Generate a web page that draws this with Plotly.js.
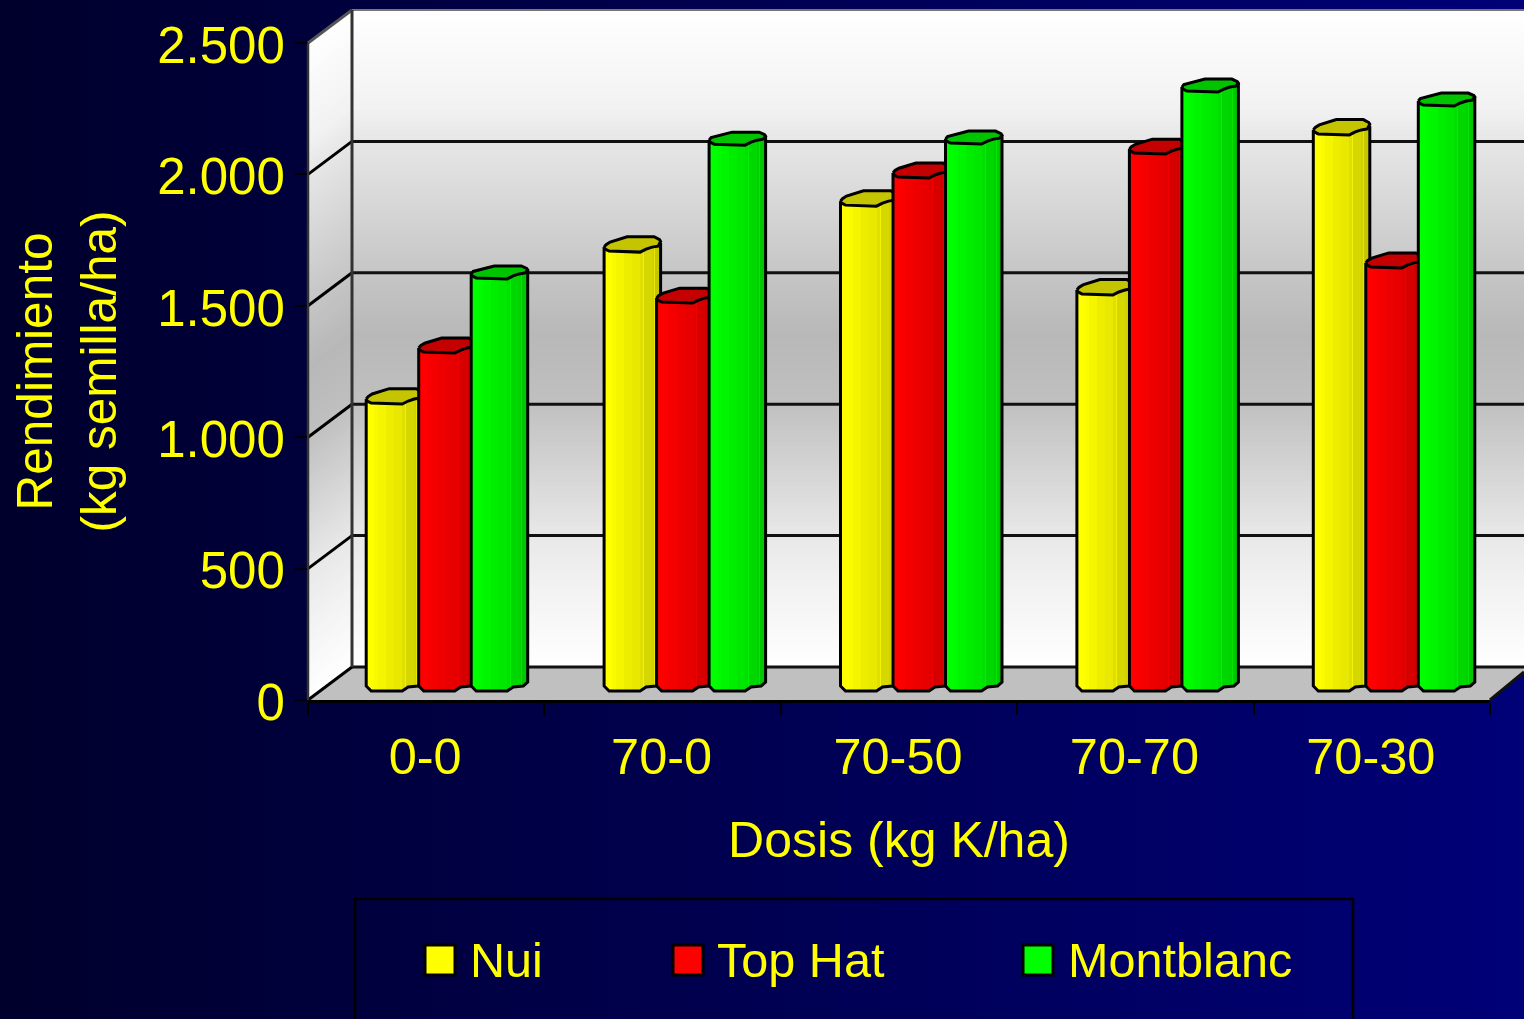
<!DOCTYPE html>
<html>
<head>
<meta charset="utf-8">
<script src="https://cdn.plot.ly/plotly-3.0.1.min.js"></script>
<style>
html,body{margin:0;padding:0;width:1524px;height:1019px;overflow:hidden;background:linear-gradient(90deg,#00002c 0%,#000078 100%);}
#chart{width:1524px;height:1019px;}
</style>
</head>
<body>
<div id="chart"></div>
<script>
// ---------- data ----------
var categories = ['0-0','70-0','70-50','70-70','70-30'];
var seriesNames = ['Nui','Top Hat','Montblanc'];
var nui       = [1092,1670,1845,1507,2116];
var topHat    = [1286,1476,1952,2043,1610];
var montblanc = [1568,2077,2081,2279,2226];
var seriesValues = [nui, topHat, montblanc];
var seriesRGB = [[255,255,0],[255,0,0],[0,255,0]];
var topRGB = [[196,196,0],[196,0,0],[0,196,0]];
var yTicks = [0,500,1000,1500,2000,2500];

// ---------- geometry of the pseudo-3D frame (pixels) ----------
var W=1524,H=1019;
var L=308,R=1490,Y0=700,Y1=43, DX=44, DY=33, BACKR=1526;
var PXX=(R-L)/5, PXY=(Y0-Y1)/2500;
var BARBASE=691;
var shift=(Y0-BARBASE)/PXY;
function px(x){return x/W;}
function py(y){return 1-y/H;}
var barLeft=[-58.5,-6,46.5];
var groupShift=[-1.5,0,0,0,0];
var BW=56.5;
var edges=[0,4,8,12,16,20,24,28,32,36,39,40,44,48,50,51,54,BW];
var shade=[1,1,.985,.96,.96,.93,.93,.91,.91,.88,.95,.84,.84,.82,.9,.78,.78];
var topEdge=[[0,-5],[5,-2],[36,0],[48,-5],[54,-7],[BW,-9]];
var botEdge=[[0,-5],[5,0],[36,0],[42,-4],[52,-5],[BW,-9]];
var topPoly=[[0,-5],[1,-3],[5,-1],[36,0],[42,-3],[48,-5],[54,-6],[BW,-9],[BW-1,-10.5],[52,-12.5],[50,-13],[23,-13],[14,-10.5],[6,-8.5],[2,-7.5],[0,-5]];
var capScale=[1.18,1.15,1];
function interp(tbl,x){
  for(var i=0;i<tbl.length-1;i++){
    if(x<=tbl[i+1][0]){var a=tbl[i],b=tbl[i+1];return a[1]+(b[1]-a[1])*(x-a[0])/(b[0]-a[0]);}
  }
  return tbl[tbl.length-1][1];
}
var traces=[{x:[],y:[],type:'scatter',xaxis:'x',yaxis:'y',showlegend:false,hoverinfo:'skip'}];
var axisIds=['y2','y3','y4'];
var xCentres=categories.map(function(c,i){return i+0.5;});

seriesValues.forEach(function(vals,s){
  var c=seriesRGB[s];
  for(var k=0;k<edges.length-1;k++){
    var a=edges[k],b=edges[k+1],mid=(a+b)/2,f=shade[k];
    var tOff=Math.min(interp(topEdge,a),interp(topEdge,b));
    var bOff=interp(botEdge,mid);
    var baseV=-bOff/PXY;
    traces.push({
      type:'bar',name:seriesNames[s],xaxis:'x',yaxis:axisIds[s],
      x:xCentres,
      y:vals.map(function(v){return v-tOff/PXY-baseV;}),
      base:vals.map(function(){return baseV;}),
      width:(b-a+0.4)/PXX,
      offset:groupShift.map(function(g){return (barLeft[s]+g+a)/PXX;}),
      marker:{color:'rgb('+c.map(function(q){return Math.round(q*f);}).join(',')+')',line:{width:0}},
      showlegend:false
    });
  }
  // top caps and outlines follow the values on the same axis
  var capX=[],capY=[],outX=[],outY=[];
  vals.forEach(function(v,i){
    var left=i+0.5+(barLeft[s]+groupShift[i])/PXX;
    topPoly.forEach(function(p){capX.push(left+p[0]/PXX);capY.push(v-p[1]*(p[1]<-7.6?capScale[s]:1)/PXY);});
    capX.push(null);capY.push(null);
    outX.push(left);outY.push(v+5/PXY);
    botEdge.forEach(function(p){outX.push(left+p[0]/PXX);outY.push(-p[1]/PXY);});
    outX.push(left+BW/PXX);outY.push(v+9/PXY);
    outX.push(null);outY.push(null);
  });
  traces.push({type:'scatter',mode:'lines',x:outX,y:outY,xaxis:'x',yaxis:axisIds[s],
    line:{color:'#000',width:3},showlegend:false,hoverinfo:'skip'});
  traces.push({type:'scatter',mode:'lines',x:capX,y:capY,xaxis:'x',yaxis:axisIds[s],fill:'toself',
    fillcolor:'rgb('+topRGB[s].join(',')+')',line:{color:'#000',width:3},showlegend:false,hoverinfo:'skip'});
});

// ---------- walls ----------
var grad=[[10,255],[107,242],[142,230],[271,198],[335,184],[403,192],[535,232],[600,244],[667,255]];
var shapes=[];
var step=4;
for(var y=10;y<667;y+=step){
  var g=Math.round(interp(grad,y+step/2));
  var col='rgb('+g+','+g+','+g+')';
  shapes.push({type:'rect',layer:'below',xref:'paper',yref:'paper',x0:px(L+DX),x1:px(BACKR),y0:py(y),y1:py(Math.min(y+step+1,667)),fillcolor:col,line:{width:0}});
  var yA=y+DY,yB=Math.min(y+step+1,667)+DY;
  shapes.push({type:'path',layer:'below',xref:'paper',yref:'paper',
    path:'M'+px(L)+','+py(yA)+'L'+px(L+DX)+','+py(y)+'L'+px(L+DX)+','+py(yB-DY)+'L'+px(L)+','+py(yB)+'Z',
    fillcolor:col,line:{width:0}});
}
// floor
shapes.push({type:'path',layer:'below',xref:'paper',yref:'paper',
  path:'M'+px(L)+','+py(Y0)+'L'+px(L+DX)+','+py(Y0-DY)+'L'+px(BACKR)+','+py(Y0-DY)+'L'+px(BACKR)+','+py(672)+'L'+px(R)+','+py(Y0)+'Z',
  fillcolor:'#c0c0c0',line:{width:0}});
function ln(x0,y0,x1,y1,color,w){
  return {type:'line',layer:'below',xref:'paper',yref:'paper',x0:px(x0),y0:py(y0),x1:px(x1),y1:py(y1),line:{color:color,width:w}};
}
yTicks.forEach(function(v,i){
  var front=Y0-v*PXY, back=front-DY;
  var last=(i===yTicks.length-1);
  var c=last?'#777':'#111';
  shapes.push(ln(L,front,L+DX,back,last?'#555':'#000',3));
  shapes.push(ln(L+DX,back,BACKR,back,c,last?2:3));
});
shapes.push(ln(L+DX,10,L+DX,667,'#333',3));
shapes.push(ln(L,43,L,700,'#333',2.5));
shapes.push(ln(R,700,1524,672,'#111',3));

// ---------- legend ----------
var legendSwatch=[425,673,1023], legendText=[468,715,1066];
shapes.push({type:'rect',layer:'below',xref:'paper',yref:'paper',x0:px(355),x1:px(1353),y0:py(899),y1:py(1030),line:{color:'#000',width:2.5},fillcolor:'rgba(0,0,0,0)'});
var annotations=[];
seriesNames.forEach(function(n,i){
  shapes.push({type:'rect',layer:'below',xref:'paper',yref:'paper',x0:px(legendSwatch[i]),x1:px(legendSwatch[i]+30),y0:py(945),y1:py(975),
    fillcolor:'rgb('+seriesRGB[i].join(',')+')',line:{color:'#000',width:3}});
  annotations.push({xref:'paper',yref:'paper',x:px(legendText[i]),y:py(960),xanchor:'left',yanchor:'middle',text:n,showarrow:false,
    font:{family:'"Liberation Sans",Arial,sans-serif',size:48.6,color:'#ffff00'}});
});

var font={family:'"Liberation Sans",Arial,sans-serif',size:51,color:'#ffff00'};
var xFont={family:'"Liberation Sans",Arial,sans-serif',size:50.5,color:'#ffff00'};
var titleFont={family:'"Liberation Sans",Arial,sans-serif',size:49.5,color:'#ffff00'};
var over={overlaying:'y',visible:false,fixedrange:true,anchor:'x',range:[-shift,2500-shift]};
var layout={
  width:W,height:H,margin:{l:0,r:0,t:0,b:0,pad:0},autosize:false,
  paper_bgcolor:'rgba(0,0,0,0)',plot_bgcolor:'rgba(0,0,0,0)',
  showlegend:false,barmode:'overlay',bargap:0,separators:',.',
  font:font,hovermode:false,
  xaxis:{domain:[px(L),px(R)],range:[0,5],fixedrange:true,showgrid:false,zeroline:false,
    tickmode:'array',tickvals:xCentres,ticktext:categories,ticks:'',ticklen:0,ticklabelstandoff:10,ticklabelshift:-1,
    tickfont:xFont,showline:true,linecolor:'#000',linewidth:3,
    minor:{tickmode:'array',tickvals:[0,1,2,3,4,5],ticks:'outside',ticklen:12,tickwidth:2,tickcolor:'#000',showgrid:false},
    title:{text:'Dosis (kg K/ha)',font:{family:xFont.family,size:50,color:'#ffff00'},standoff:39}},
  yaxis:{domain:[py(Y0),py(Y1)],range:[0,2500],fixedrange:true,showgrid:false,zeroline:false,
    tickmode:'array',tickvals:yTicks,tickformat:',d',ticks:'outside',ticklen:12,tickwidth:2,tickcolor:'#000',
    ticklabelshift:2,
    tickfont:font,showline:false,anchor:'x',
    title:{text:'Rendimiento<br>(kg semilla/ha)',font:titleFont,standoff:24}},
  yaxis2:over,yaxis3:over,yaxis4:over,
  shapes:shapes,annotations:annotations
};
Plotly.newPlot('chart',traces,layout,{displayModeBar:false,staticPlot:true});
</script>
</body>
</html>
